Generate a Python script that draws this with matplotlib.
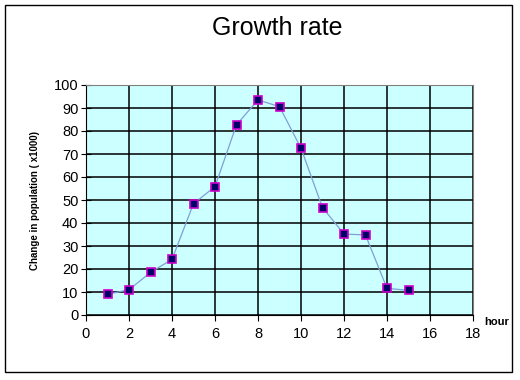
import matplotlib
matplotlib.use("Agg")
import matplotlib.pyplot as plt
from matplotlib.patches import Rectangle

plt.rcParams['font.family'] = ['Liberation Sans', 'DejaVu Sans']

hours = [1, 2, 3, 4, 5, 6, 7, 8, 9, 10, 11, 12, 13, 14, 15]
change = [9, 11, 18.5, 24.2, 48.4, 55.8, 82.7, 93.5, 90.6, 72.5, 46.7, 35.2, 34.8, 11.6, 10.7]
x_ticks = list(range(0, 19, 2))
y_ticks = list(range(0, 101, 10))

fig = plt.figure(figsize=(5.2, 3.8), dpi=100)
fig.patch.set_facecolor('white')
fig.patches.append(Rectangle((5/520, 1 - 372/380), 507/520, 367/380, transform=fig.transFigure,
                             fill=False, edgecolor='black', linewidth=1))

ax = fig.add_axes([86/520, 1 - 315/380, (473 - 86)/520, (315 - 85)/380])
ax.set_facecolor('#CCFFFF')
ax.plot(hours, change, color='#7F9FD6', linewidth=0.9, marker='s', markersize=5.5,
        markerfacecolor='#000066', markeredgecolor='#CC00CC', markeredgewidth=1.2, zorder=3)
ax.set_xlim(0, 18)
ax.set_ylim(0, 100)
ax.set_xticks(x_ticks)
ax.set_yticks(y_ticks)
ax.grid(True, color='black', linewidth=1.1)
ax.set_axisbelow(True)
ax.tick_params(axis='y', labelsize=10.5, length=7, direction='inout', pad=2)
ax.tick_params(axis='x', labelsize=10.5, length=4, direction='out', pad=5)
for s in ['top', 'right']:
    ax.spines[s].set_color('#808080')
for s in ['left', 'bottom']:
    ax.spines[s].set_color('black')
ax.set_ylabel('Change in population ( x1000)', fontsize=7, fontweight='bold', labelpad=10)
fig.text(277/520, 1 - 28/380, 'Growth rate', ha='center', va='center', fontsize=18)
fig.text(497/520, 1 - 322/380, 'hour', ha='center', va='center', fontsize=8, fontweight='bold')

fig.savefig('out.png', dpi=100)
